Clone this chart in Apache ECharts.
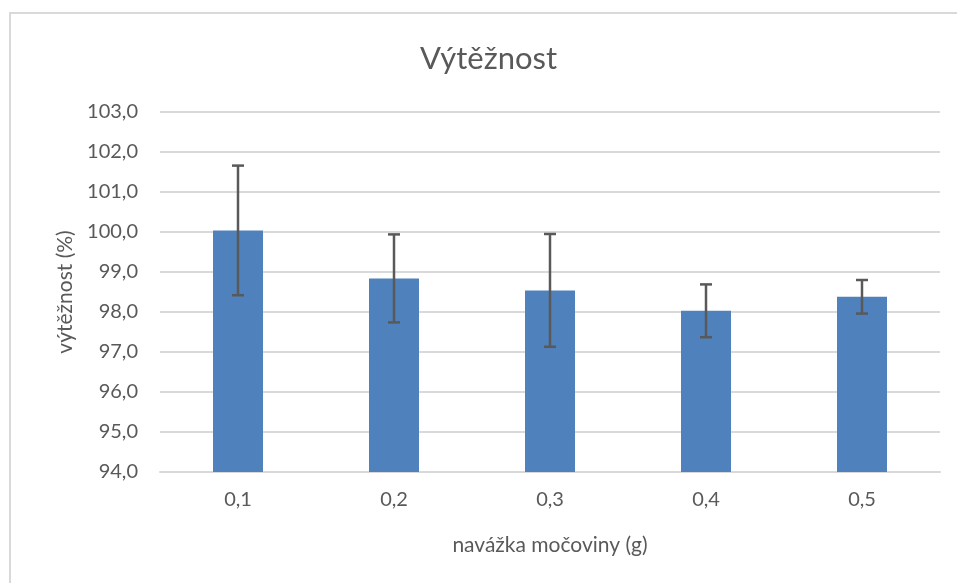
<!DOCTYPE html>
<html>
<head>
<meta charset="utf-8">
<script src="https://cdn.jsdelivr.net/npm/echarts@6/dist/echarts.min.js"></script>
<style>
  html, body { margin: 0; padding: 0; background: #fff; }
  #chart { width: 957px; height: 583px; }
</style>
</head>
<body>
<div id="chart"></div>
<script>
// Výtěžnost – sloupce s chybovými úsečkami
const categories = ["0,1", "0,2", "0,3", "0,4", "0,5"];
const yield_val = [100.04, 98.84, 98.54, 98.03, 98.38];
const err_val = [1.62, 1.10, 1.41, 0.66, 0.42];
const yTicks = [94, 95, 96, 97, 98, 99, 100, 101, 102, 103];

const textColor = "#595959";
const fontFam = "Lato, 'Open Sans', sans-serif";

let errData = yield_val.map((v, i) => [i, v - err_val[i], v + err_val[i]]);

let myChart = echarts.init(document.getElementById("chart"));
let option = {
  backgroundColor: "#fff",
  animation: false,
  title: {
    text: "Výtěžnost",
    left: 415,
    top: 38,
    textStyle: {
      color: textColor,
      fontFamily: fontFam,
      fontWeight: "normal",
      fontSize: 31,
    },
  },
  grid: {
    left: 160,
    right: 17,
    top: 112,
    bottom: 111,
  },
  xAxis: {
    type: "category",
    data: categories,
    name: "navážka močoviny (g)",
    nameLocation: "middle",
    nameGap: 63,
    nameTextStyle: { color: textColor, fontFamily: fontFam, fontSize: 21 },
    axisLine: { show: true, lineStyle: { color: "#d9d9d9", width: 2 } },
    axisTick: { show: false },
    axisLabel: { color: textColor, fontFamily: fontFam, fontSize: 20, margin: 18 },
  },
  yAxis: {
    type: "value",
    min: yTicks[0],
    max: yTicks[yTicks.length - 1],
    interval: 1,
    name: "výtěžnost (%)",
    nameLocation: "middle",
    nameGap: 76,
    nameTextStyle: { color: textColor, fontFamily: fontFam, fontSize: 21 },
    axisLine: { show: false },
    axisTick: { show: false },
    axisLabel: {
      color: textColor,
      fontFamily: fontFam,
      fontSize: 20,
      margin: 22,
      formatter: (v) => v.toFixed(1).replace(".", ","),
    },
    splitLine: { show: true, lineStyle: { color: "#d9d9d9", width: 2 } },
  },
  graphic: [
    { // rámeček grafu
      type: "rect",
      silent: true,
      shape: { x: 10, y: 13, width: 1000, height: 1000 },
      style: { fill: "none", stroke: "#d9d9d9", lineWidth: 2 },
    },
  ],
  series: [
    {
      type: "bar",
      data: yield_val,
      barWidth: 50,
      itemStyle: { color: "#4f81bd" },
    },
    {
      type: "custom",
      data: errData,
      z: 10,
      renderItem: (params, api) => {
        let lo = api.coord([api.value(0), api.value(1)]);
        let hi = api.coord([api.value(0), api.value(2)]);
        let half = 6;
        let st = { stroke: "#595959", lineWidth: 2.5 };
        return {
          type: "group",
          children: [
            { type: "line", shape: { x1: hi[0], y1: hi[1], x2: lo[0], y2: lo[1] }, style: st },
            { type: "line", shape: { x1: hi[0] - half, y1: hi[1], x2: hi[0] + half, y2: hi[1] }, style: st },
            { type: "line", shape: { x1: lo[0] - half, y1: lo[1], x2: lo[0] + half, y2: lo[1] }, style: st },
          ],
        };
      },
    },
  ],
};
myChart.setOption(option);
</script>
</body>
</html>
